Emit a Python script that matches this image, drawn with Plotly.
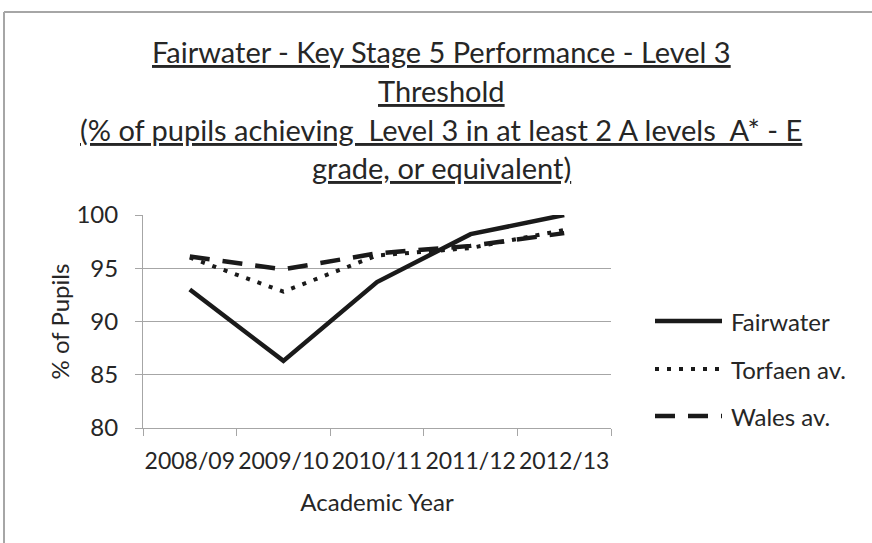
import plotly.graph_objects as go

# chart data
years = ["2008/09", "2009/10", "2010/11", "2011/12", "2012/13"]
fairwater = [93.0, 86.3, 93.7, 98.2, 100.0]
torfaen = [96.0, 92.8, 96.2, 96.9, 98.6]
wales = [96.1, 94.9, 96.4, 97.1, 98.3]

series_names = ["Fairwater", "Torfaen av.", "Wales av."]
title_lines = [
    "Fairwater - Key Stage 5 Performance - Level 3",
    "Threshold",
    "(% of pupils achieving  Level 3 in at least 2 A levels  A* - E",
    "grade, or equivalent)",
]

W, H = 872, 543
L, R, T, B = 143, 611, 215, 428  # plot area in pixels
FONT = "Lato"
TXT = "#262626"
GRID = "#A6A6A6"


def px_x(x):
    return (x - L) / (R - L)


def px_y(y):
    return (B - y) / (B - T)


styles = [
    dict(color="#1a1a1a", width=4.5, dash="solid"),
    dict(color="#1a1a1a", width=4, dash="4px,8px"),
    dict(color="#1a1a1a", width=4.5, dash="20px,13px"),
]

fig = go.Figure()
for name, vals, st in zip(series_names, [fairwater, torfaen, wales], styles):
    fig.add_trace(go.Scatter(x=years, y=vals, mode="lines", name=name,
                             line=st, showlegend=False))

# title, one annotation per line so the spacing follows the picture
title_y = [51, 90, 129, 167]
for txt, ty in zip(title_lines, title_y):
    fig.add_annotation(text="<u>" + txt + "</u>", xref="paper", yref="paper",
                       x=px_x(441), y=px_y(ty), xanchor="center", yanchor="middle",
                       showarrow=False, font=dict(family=FONT, size=29, color=TXT))

# legend drawn by hand so the sample lines are as long as in the picture
leg_y = [321, 369, 416]
for name, st, ly in zip(series_names, styles, leg_y):
    fig.add_shape(type="line", xref="paper", yref="paper",
                  x0=px_x(655), x1=px_x(722), y0=px_y(ly), y1=px_y(ly),
                  line=st)
    fig.add_annotation(text=name, xref="paper", yref="paper",
                       x=px_x(729), y=px_y(ly), xanchor="left", yanchor="middle",
                       showarrow=False, font=dict(family=FONT, size=24, color=TXT))

# outer chart border (only left and top visible in the picture)
fig.add_shape(type="line", xref="paper", yref="paper",
              x0=px_x(4), x1=px_x(4), y0=px_y(12), y1=px_y(H + 10),
              line=dict(color=GRID, width=2))
fig.add_shape(type="line", xref="paper", yref="paper",
              x0=px_x(4), x1=px_x(W + 10), y0=px_y(12), y1=px_y(12),
              line=dict(color=GRID, width=2))

fig.update_layout(
    width=W, height=H,
    margin=dict(l=L, r=W - R, t=T, b=H - B),
    paper_bgcolor="white", plot_bgcolor="white",
    font=dict(family=FONT, size=23, color=TXT),
    showlegend=False,
)
fig.update_xaxes(
    type="category", range=[-0.5, 4.5], tickangle=0,
    showgrid=False, showline=True, linecolor=GRID, linewidth=1,
    ticks="outside", tickson="boundaries", ticklen=7, tickcolor=GRID,
    ticklabelstandoff=12,
    tickfont=dict(family=FONT, size=23, color=TXT),
    title=dict(text="Academic Year", font=dict(family=FONT, size=24, color=TXT), standoff=21),
)
fig.update_yaxes(
    range=[80, 100], dtick=5, showgrid=True, gridcolor=GRID, gridwidth=1,
    showline=True, linecolor=GRID, linewidth=1, zeroline=False,
    ticks="outside", ticklen=7, tickcolor=GRID, ticklabelstandoff=12,
    tickfont=dict(family=FONT, size=24, color=TXT),
    title=dict(text="% of Pupils", font=dict(family=FONT, size=24, color=TXT), standoff=0),
)

# the page body has an 8px default margin; drop it so the chart sits at 0,0
fig.write_html("out.html", config={"displayModeBar": False},
               post_script="document.body.style.margin='0px';")
